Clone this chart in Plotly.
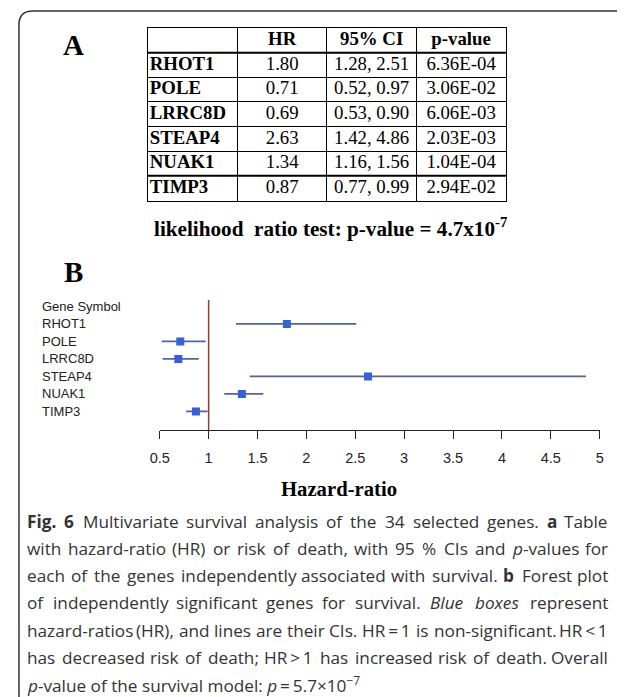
import re
import plotly.graph_objects as go

# ---------------- data ----------------
genes = ["RHOT1", "POLE", "LRRC8D", "STEAP4", "NUAK1", "TIMP3"]
hr = [1.80, 0.71, 0.69, 2.63, 1.34, 0.87]
ci_low = [1.28, 0.52, 0.53, 1.42, 1.16, 0.77]
ci_high = [2.51, 0.97, 0.90, 4.86, 1.56, 0.99]
p_values = [6.36e-04, 3.06e-02, 6.06e-03, 2.03e-03, 1.04e-04, 2.94e-02]
table_header = ["", "HR", "95% CI", "p-value"]
x_ticks = [0.5, 1, 1.5, 2, 2.5, 3, 3.5, 4, 4.5, 5]
row_index = list(range(1, len(genes) + 1))

caption_lines = [
    "<b>Fig.</b> <b>6</b> Multivariate survival analysis of the 34 selected genes. <b>a</b> Table",
    "with hazard-ratio (HR) or risk of death, with 95 % CIs and <i>p</i>-values for",
    "each of the genes independently associated with survival. <b>b</b> Forest plot",
    "of independently significant genes for survival. <i>Blue</i> <i>boxes</i> represent",
    "hazard-ratios (HR), and lines are their CIs. HR\u2009=\u20091 is non-significant. HR\u2009&lt;\u20091",
    "has decreased risk of death; HR\u2009&gt;\u20091 has increased risk of death. Overall",
]
caption_last = "<i>p</i>-value of the survival model: <i>p</i>\u2009=\u20095.7×10<sup>−7</sup>"

# the plot div sits 8px inside the page (default body margin)
OX, OY = 8, 8
W, H = 625, 697


def px(x):
    return (x - OX) / W


def py(y):
    return 1 - (y - OY) / H


fig = go.Figure()

# ---------------- table (panel A) on its own axes ----------------
n_rows = len(genes) + 1
cell_rows, cell_cols, cell_text = [], [], []
for j, h in enumerate(table_header):
    if h:
        cell_rows.append(0.5)
        cell_cols.append(j + 0.5)
        cell_text.append(f"<b>{h}</b>")
for i, g in enumerate(genes):
    r = i + 1.5
    vals = [f"{hr[i]:.2f}", f"{ci_low[i]:.2f}, {ci_high[i]:.2f}", f"{p_values[i]:.2E}"]
    for j, v in enumerate(vals):
        cell_rows.append(r)
        cell_cols.append(j + 1.5)
        cell_text.append(v)

fig.add_trace(go.Scatter(
    x=cell_cols, y=cell_rows, text=cell_text, mode="text",
    textposition="middle center",
    textfont=dict(family="Liberation Serif", size=18.8, color="black"),
    xaxis="x2", yaxis="y2", showlegend=False, hoverinfo="skip",
))
fig.add_trace(go.Scatter(
    x=[0.02] * len(genes), y=[i + 1.5 for i in range(len(genes))],
    text=[f"<b>{g}</b>" for g in genes], mode="text",
    textposition="middle right",
    textfont=dict(family="Liberation Serif", size=18.8, color="black"),
    xaxis="x2", yaxis="y2", showlegend=False, hoverinfo="skip",
))

# ---------------- forest plot (panel B) ----------------
fig.add_trace(go.Scatter(
    x=hr,
    y=row_index,
    mode="markers",
    marker=dict(symbol="square", size=8, color="#3461d8", line=dict(width=0)),
    error_x=dict(
        type="data",
        symmetric=False,
        array=[h - v for v, h in zip(hr, ci_high)],
        arrayminus=[v - l for v, l in zip(hr, ci_low)],
        color="#5562a0",
        thickness=1.8,
        width=0,
    ),
    showlegend=False,
    hoverinfo="skip",
))

y_top_idx = -0.37
y_bot_idx = 7.06

fig.update_layout(
    width=W,
    height=H,
    margin=dict(l=0, r=0, t=0, b=0),
    paper_bgcolor="white",
    plot_bgcolor="white",
    showlegend=False,
    xaxis=dict(
        domain=[px(153), px(603)],
        range=[0.5, 5],
        tickvals=x_ticks,
        ticktext=[f"{t:g}" for t in x_ticks],
        showline=True,
        linecolor="#222",
        linewidth=1.2,
        ticks="outside",
        ticklen=8,
        tickwidth=1.2,
        tickcolor="#222",
        showgrid=False,
        zeroline=False,
        tickfont=dict(family="Liberation Sans", size=14.5, color="#222"),
        ticklabelstandoff=6,
        anchor="y",
    ),
    yaxis=dict(
        domain=[py(430), py(300)],
        range=[y_bot_idx, y_top_idx],
        visible=False,
        showgrid=False,
        zeroline=False,
    ),
    xaxis2=dict(
        domain=[px(141), px(507)],
        range=[0, len(table_header)],
        tickvals=list(range(len(table_header) + 1)),
        showgrid=True, gridcolor="black", gridwidth=1,
        showticklabels=False, ticks="", zeroline=False,
        showline=True, mirror=True, linecolor="black", linewidth=1,
        anchor="y2", fixedrange=True,
    ),
    yaxis2=dict(
        domain=[py(200.5), py(28)],
        range=[n_rows, 0],
        tickvals=list(range(n_rows + 1)),
        showgrid=True, gridcolor="black", gridwidth=1,
        showticklabels=False, ticks="", zeroline=False,
        showline=True, mirror=True, linecolor="black", linewidth=1,
        anchor="x2", fixedrange=True,
    ),
)

shapes = []
# reference line HR = 1
shapes.append(dict(type="line", xref="x", yref="y domain", x0=1, x1=1, y0=0, y1=1,
                   line=dict(color="#8e3f3a", width=1.5), layer="below"))
# outer frame with rounded top-left corner
path = (f"M {px(9)},{py(720)} L {px(9)},{py(25)} "
        f"Q {px(9)},{py(11)} {px(23)},{py(11)} L {px(640)},{py(11)}")
shapes.append(dict(type="path", xref="paper", yref="paper", path=path,
                   line=dict(color="#333", width=1.5)))
# thicker rule lines in the table
for yr in (1, n_rows - 1):
    shapes.append(dict(type="line", xref="x2 domain", yref="y2", x0=0, x1=1,
                       y0=yr, y1=yr, line=dict(color="black", width=2)))
fig.update_layout(shapes=shapes)

ann = []
ann.append(dict(text="<b>A</b>", x=px(65), y=py(45), xref="paper", yref="paper",
                xanchor="center", yanchor="middle", showarrow=False,
                font=dict(family="Liberation Serif", size=29, color="black")))
ann.append(dict(text="<b>B</b>", x=px(65), y=py(272), xref="paper", yref="paper",
                xanchor="center", yanchor="middle", showarrow=False,
                font=dict(family="Liberation Serif", size=29, color="black")))
ann.append(dict(text="<b>likelihood&nbsp; ratio test: p-value = 4.7x10<sup>-7</sup></b>",
                x=px(145), y=py(227), xref="paper", yref="paper",
                xanchor="left", yanchor="middle", showarrow=False,
                font=dict(family="Liberation Serif", size=21.2, color="black")))
ann.append(dict(text="<b>Hazard-ratio</b>", x=px(336), y=py(489), xref="paper", yref="paper",
                xanchor="center", yanchor="middle", showarrow=False,
                font=dict(family="Liberation Serif", size=20.7, color="black")))
# row labels
ann.append(dict(text="Gene Symbol", x=px(30), y=0, xref="paper", yref="y",
                xanchor="left", yanchor="middle", showarrow=False,
                font=dict(family="Liberation Sans", size=13, color="#222")))
for g, yi in zip(genes, row_index):
    ann.append(dict(text=g, x=px(30), y=yi, xref="paper", yref="y",
                    xanchor="left", yanchor="middle", showarrow=False,
                    font=dict(family="Liberation Sans", size=13, color="#222")))

# ---------------- justified caption ----------------
ADV = {' ': 532, 'a': 1139, 'b': 1255, 'c': 975, 'd': 1255, 'e': 1149, 'f': 694,
       'g': 1122, 'h': 1257, 'i': 518, 'k': 1075, 'l': 518, 'm': 1905, 'n': 1257,
       'o': 1237, 'p': 1255, 'r': 836, 's': 977, 't': 723, 'u': 1257, 'v': 1026,
       'w': 1593, 'x': 1073, 'y': 1028, 'z': 977, 'B': 1327, 'C': 1292, 'F': 1057,
       'H': 1511, 'I': 571, 'M': 1849, 'O': 1595, 'R': 1266, 'T': 1128,
       '.': 545, ',': 500, ':': 545, ';': 545, '-': 659, '(': 606, ')': 606,
       '%': 1696, '=': 1171, '<': 1171, '>': 1171, '×': 1171, '−': 1171,
       '\u2009': 410}
CAP_FS = 17.2
CAP_L, CAP_R = 17, 612


def word_width(w):
    bold = "<b>" in w
    plain = re.sub(r"<[^>]+>", "", w).replace("&lt;", "<").replace("&gt;", ">")
    units = sum(ADV.get(ch, 1171 if ch.isdigit() else 1100) for ch in plain)
    return units / 2048 * CAP_FS * (1.06 if bold else 1.0)


cap_font = dict(family="Open Sans", size=CAP_FS, color="#333")
for k, line in enumerate(caption_lines):
    yk = py(521 + 27.3 * k)
    words = line.split(" ")
    widths = [word_width(w) for w in words]
    gap = (CAP_R - CAP_L - sum(widths)) / (len(words) - 1)
    xpos = CAP_L
    for n, (w, wd) in enumerate(zip(words, widths)):
        last = n == len(words) - 1
        ann.append(dict(text=w, x=px(CAP_R if last else xpos), y=yk,
                        xref="paper", yref="paper",
                        xanchor="right" if last else "left", yanchor="middle",
                        showarrow=False, borderpad=0, borderwidth=0, font=cap_font))
        xpos += wd + gap
ann.append(dict(text=caption_last, x=px(CAP_L), y=py(521 + 27.3 * len(caption_lines)),
                xref="paper", yref="paper", xanchor="left", yanchor="middle",
                showarrow=False, borderpad=0, borderwidth=0, font=cap_font))

fig.update_layout(annotations=ann)

fig.write_html("out.html")
